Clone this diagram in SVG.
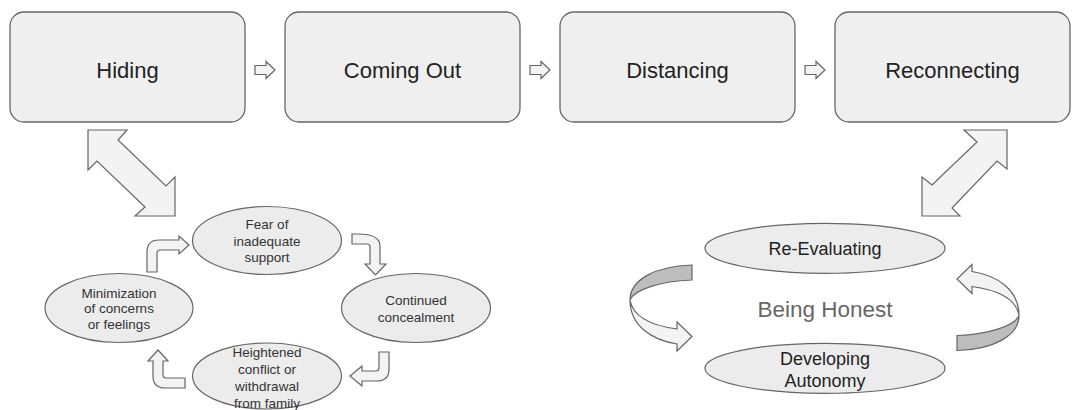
<svg xmlns="http://www.w3.org/2000/svg" width="1079" height="410" viewBox="0 0 1079 410">
<defs>
<style>
.box{fill:#efefef;stroke:#666;stroke-width:1.3}
.ell{fill:#ececec;stroke:#666;stroke-width:1.2}
.t{font-family:"Liberation Sans",Arial,sans-serif;fill:#222;text-anchor:middle}
.big{font-size:22px}
.sm{font-size:13.5px;fill:#333}
.md{font-size:18px}
.arr{fill:#f3f3f3;stroke:#666;stroke-width:1.2;stroke-linejoin:miter}
.dark{fill:#bdbdbd;stroke:#666;stroke-width:1.2}
</style>
<path id="sa" d="M-10,-4.5 L1,-4.5 L1,-8.5 L10,0 L1,8.5 L1,4.5 L-10,4.5 Z"/>
</defs>
<rect width="1079" height="410" fill="#fff"/>

<g id="hiding"><rect class="box" x="10" y="12" width="235" height="110" rx="14"/><text class="t big" x="127.5" y="78">Hiding</text></g>
<g id="coming-out"><rect class="box" x="285" y="12" width="235" height="110" rx="14"/><text class="t big" x="402.5" y="78">Coming Out</text></g>
<g id="distancing"><rect class="box" x="560" y="12" width="235" height="110" rx="14"/><text class="t big" x="677.5" y="78">Distancing</text></g>
<g id="reconnecting"><rect class="box" x="835" y="12" width="235" height="110" rx="14"/><text class="t big" x="952.5" y="78">Reconnecting</text></g>

<g id="fear"><ellipse class="ell" cx="267" cy="240.5" rx="74.5" ry="34"/><text class="t sm" x="267" y="229">Fear of</text><text class="t sm" x="267" y="246">inadequate</text><text class="t sm" x="267" y="262">support</text></g>
<g id="continued"><ellipse class="ell" cx="416" cy="308" rx="74.5" ry="34.5"/><text class="t sm" x="416" y="305">Continued</text><text class="t sm" x="416" y="322">concealment</text></g>
<g id="heightened"><ellipse class="ell" cx="267" cy="376" rx="74.5" ry="33"/><text class="t sm" x="267" y="357">Heightened</text><text class="t sm" x="267" y="374">conflict or</text><text class="t sm" x="267" y="391">withdrawal</text><text class="t sm" x="267" y="408">from family</text></g>
<g id="minimization"><ellipse class="ell" cx="119" cy="308" rx="74" ry="34.5"/><text class="t sm" x="119" y="297.5">Minimization</text><text class="t sm" x="119" y="313">of concerns</text><text class="t sm" x="119" y="329">or feelings</text></g>

<g id="re-evaluating"><ellipse class="ell" cx="825" cy="248.3" rx="120" ry="25"/><text class="t md" x="825" y="255">Re-Evaluating</text></g>
<g id="being-honest"><text class="t" x="825" y="316.5" style="font-size:22.5px;fill:#666">Being Honest</text></g>
<g id="developing-autonomy"><ellipse class="ell" cx="825" cy="368.3" rx="120" ry="25"/><text class="t md" x="825" y="365">Developing</text><text class="t md" x="825" y="386.5">Autonomy</text></g>

<g id="connectors">
<use href="#sa" class="arr" transform="translate(265 70)"/>
<use href="#sa" class="arr" transform="translate(540 70)"/>
<use href="#sa" class="arr" transform="translate(815 70)"/>

<polygon class="arr" points="88,130 127,130 118,140 166,186 175,177 175,216 135,216 145,207 97,161 88,170"/>
<polygon class="arr" points="1007,130 964,130 977,142 932,185 922,177 922,216 960,216 952,208 997,161 1007,169"/>

<path class="arr" d="M147,272 L147,252 Q147,240 159,240 L179,240 L179,236 L189,245 L179,254 L179,250 L160,250 Q157,250 157,253 L157,272 Z"/>
<path class="arr" d="M352,234 L358,234 Q380,234 380,246 L380,264 L386,264 L375.5,275 L365,264 L370,264 L370,247 Q370,244 367,244 L352,244 Z"/>
<path class="arr" d="M389,352 L389,369 Q389,381 377,381 L362,381 L362,386 L350,376 L362,366 L362,371 L376,371 Q379,371 379,368 L379,352 Z"/>
<path class="arr" d="M185,388 L165,388 Q153,388 153,376 L153,361 L148,361 L158,350 L168,361 L163,361 L163,375 Q163,378 166,378 L185,378 Z"/>

<g id="curve-left">
<path class="dark" d="M692,265 C655,266 630,280 630,300 C634,290 660,281 692,280 Z"/>
<path class="arr" d="M630,300 C630,326 652,340 677,344 L677,351 L692,336.5 L677,322 L677,329 C655,326 633,318 630,300 Z"/>
</g>
<g id="curve-right" transform="rotate(180 824.5 307.75)">
<path class="dark" d="M692,265 C655,266 630,280 630,300 C634,290 660,281 692,280 Z"/>
<path class="arr" d="M630,300 C630,326 652,340 677,344 L677,351 L692,336.5 L677,322 L677,329 C655,326 633,318 630,300 Z"/>
</g>
</g>
</svg>
